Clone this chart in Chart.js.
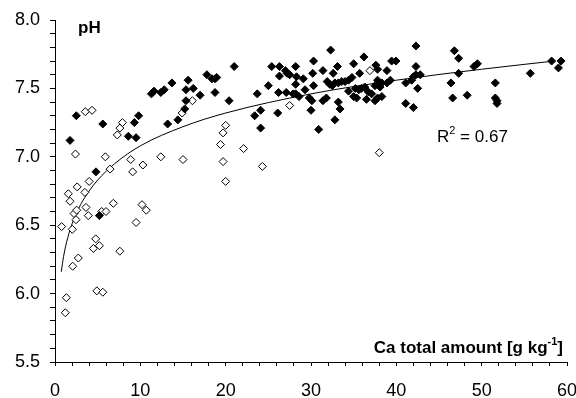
<!DOCTYPE html>
<html>
<head>
<meta charset="utf-8">
<script src="https://cdn.jsdelivr.net/npm/chart.js@4"></script>
<style>
  html, body { margin: 0; padding: 0; background: #fff; }
  #wrap { width: 576px; height: 398px; }
</style>
</head>
<body>
<div id="wrap"><canvas id="myChart" width="576" height="398"></canvas></div>
<script>
// filled diamonds (Ca total [g/kg], pH)
const filledCa = [1.76, 2.5, 4.8, 5.2, 5.6, 8.6, 9.5, 9.3, 9.8,
  11.3, 11.6, 12.4, 12.8, 13.7, 13.2, 14.4,
  15.2, 15.35, 15.35, 15.6, 16.2, 17.0,
  17.8, 18.4, 18.75, 18.95, 18.75, 21.0, 20.4,
  23.7, 23.4, 24.1, 24.1, 25.0, 25.4, 26.3, 26.3, 26.2, 27.1, 26.1, 27.0, 27.2, 27.5, 27.9,
  28.2, 28.3, 29.1, 28.2, 29.3, 28.2, 28.6, 30.3, 30.2, 30.3, 29.8, 30.1, 30.0, 30.9, 31.4, 31.4, 31.8, 32.3, 32.6, 33.1,
  31.9, 32.2, 32.5, 32.8, 33.2, 33.6, 34.0, 34.4, 34.8,
  33.2, 33.4, 32.8, 34.4, 35.0, 35.7, 36.2,
  35.2, 35.6, 35.9, 36.3, 35.0, 35.35, 36.7, 37.1, 36.5, 37.5, 37.8, 37.5, 37.8, 38.1, 37.6, 37.8, 38.9, 38.3, 39.45, 39.96, 39.3,
  38.3, 38.9, 41.1, 41.1, 42.0, 41.8, 42.0, 42.3, 42.8, 42.3, 42.3, 42.5, 46.8, 47.3, 47.3, 46.4, 46.6, 48.3, 49.1, 49.5,
  51.6, 51.6, 51.8, 51.8, 55.7, 58.2, 59.3, 59.0];
const filledPH = [7.12, 7.30, 6.89, 6.57, 7.24, 7.15, 7.14, 7.25, 7.30,
  7.46, 7.48, 7.47, 7.49, 7.54, 7.24, 7.27,
  7.35, 7.41, 7.49, 7.56, 7.50, 7.45,
  7.60, 7.57, 7.57, 7.58, 7.47, 7.66, 7.41,
  7.46, 7.30, 7.34, 7.21, 7.52, 7.66, 7.66, 7.59, 7.47, 7.47, 7.32, 7.63, 7.61, 7.60, 7.46,
  7.66, 7.585, 7.57, 7.53, 7.49, 7.46, 7.44, 7.70, 7.61, 7.52, 7.43, 7.41, 7.34, 7.20, 7.63, 7.41, 7.43, 7.78, 7.61, 7.66,
  7.55, 7.53, 7.52, 7.54, 7.54, 7.55, 7.55, 7.56, 7.58,
  7.40, 7.35, 7.27, 7.48, 7.68, 7.61, 7.73,
  7.50, 7.49, 7.50, 7.51, 7.44, 7.43, 7.475, 7.46, 7.42, 7.41, 7.43, 7.52, 7.56, 7.51, 7.67, 7.64, 7.63, 7.54, 7.70, 7.70, 7.56,
  7.44, 7.54, 7.54, 7.39, 7.36, 7.56, 7.585, 7.60, 7.60, 7.81, 7.66, 7.50, 7.775, 7.72, 7.61, 7.54, 7.43, 7.45, 7.66, 7.68,
  7.54, 7.43, 7.41, 7.39, 7.61, 7.70, 7.70, 7.65];

// open diamonds
const openCa = [0.78, 1.21, 1.33, 1.56, 1.76, 2.03, 2.07, 2.23, 2.4, 2.46, 2.54, 2.6, 2.73, 3.5, 3.55, 3.63, 3.9, 4.0, 4.34,
  4.5, 4.77, 4.9, 5.2, 5.47, 5.6, 5.9, 5.98, 6.45, 6.83, 7.3, 7.6, 7.6, 7.9, 8.87, 9.1, 9.5, 10.2, 10.3, 10.7,
  12.4, 14.9, 15.0, 16.1, 19.4, 19.7, 19.7, 20.0, 20.0, 22.1, 24.3, 27.5, 36.9, 38.0];
const openPH = [6.49, 5.86, 5.97, 6.73, 6.675, 6.47, 6.20, 6.585, 7.02, 6.54, 6.61, 6.78, 6.26, 6.74, 7.33, 6.63, 6.57, 6.82, 7.34,
  6.33, 6.40, 6.02, 6.35, 6.60, 6.01, 7.00, 6.60, 6.91, 6.66, 7.16, 7.21, 6.31, 7.25, 6.98, 6.89, 6.52, 6.65, 6.94, 6.61,
  7.00, 7.32, 6.98, 7.41, 7.09, 7.175, 6.965, 7.23, 6.82, 7.06, 6.93, 7.375, 7.63, 7.03];

// log trend line
const trendCa = [0.74, 1, 1.5, 2, 3, 4, 5, 7, 10, 15, 20, 30, 40, 50, 58.5];
const trendPH = [6.16, 6.27, 6.41, 6.51, 6.65, 6.75, 6.83, 6.95, 7.08, 7.22, 7.32, 7.46, 7.56, 7.64, 7.70];

// tick positions: labelled majors, unlabelled minors
const xTicks = [0, 10, 20, 30, 40, 50, 60];
const xMinorStep = 2;
const yTicks = [5.5, 6.0, 6.5, 7.0, 7.5, 8.0];
const yMinorStep = 0.1;

const FONT = '"Liberation Sans", Arial, sans-serif';
const pts = (xs, ys) => xs.map((x, i) => ({ x: x, y: ys[i] }));

function allTicks(major, step) {
  const out = [];
  const lo = major[0], hi = major[major.length - 1];
  const n = Math.round((hi - lo) / step);
  for (let i = 0; i <= n; i++) out.push({ value: Math.round((lo + i * step) * 1000) / 1000 });
  return out;
}
const isMajor = (major, v) => major.some(m => Math.abs(m - v) < 1e-6);

// axis name, pH label and R2 text
const extras = {
  id: 'extras',
  afterDraw(chart) {
    const ctx = chart.ctx;
    ctx.save();
    ctx.fillStyle = '#000';
    ctx.textBaseline = 'alphabetic';
    ctx.textAlign = 'left';
    // pH
    ctx.font = 'bold 17px ' + FONT;
    ctx.fillText('pH', 78, 33);

    // axis title with superscript
    const main = 'Ca total amount [g kg';
    const sup = '-1';
    const end = ']';
    ctx.font = 'bold 17px ' + FONT;
    const wMain = ctx.measureText(main).width;
    const wEnd = ctx.measureText(end).width;
    ctx.font = 'bold 11px ' + FONT;
    const wSup = ctx.measureText(sup).width;
    let x0 = 563 - (wMain + wSup + wEnd);
    ctx.font = 'bold 17px ' + FONT;
    ctx.fillText(main, x0, 353);
    ctx.font = 'bold 11px ' + FONT;
    ctx.fillText(sup, x0 + wMain, 345);
    ctx.font = 'bold 17px ' + FONT;
    ctx.fillText(end, x0 + wMain + wSup, 353);

    // R2
    ctx.font = '17px ' + FONT;
    ctx.fillText('R', 437, 142);
    const wR = ctx.measureText('R').width;
    ctx.font = '11px ' + FONT;
    ctx.fillText('2', 437 + wR, 134);
    const w2 = ctx.measureText('2').width;
    ctx.font = '17px ' + FONT;
    ctx.fillText(' = 0.67', 437 + wR + w2, 142);
    ctx.restore();
  }
};

function noPad(s) {
  s.paddingLeft = 0; s.paddingRight = 0; s.paddingTop = 0; s.paddingBottom = 0;
}

new Chart(document.getElementById('myChart'), {
  type: 'scatter',
  data: {
    datasets: [
      {
        label: 'filled',
        data: pts(filledCa, filledPH),
        pointStyle: 'rectRot',
        pointRadius: 4,
        backgroundColor: '#000',
        borderColor: '#000',
        borderWidth: 1
      },
      {
        label: 'open',
        data: pts(openCa, openPH),
        pointStyle: 'rectRot',
        pointRadius: 4,
        backgroundColor: '#fff',
        borderColor: '#000',
        borderWidth: 1
      },
      {
        label: 'trend',
        type: 'line',
        data: pts(trendCa, trendPH),
        showLine: true,
        pointRadius: 0,
        borderColor: '#000',
        borderWidth: 1,
        cubicInterpolationMode: 'monotone',
        fill: false
      }
    ]
  },
  options: {
    responsive: false,
    animation: false,
    layout: { padding: { top: 20, right: 9, left: 0, bottom: 0 } },
    plugins: { legend: { display: false }, tooltip: { enabled: false } },
    scales: {
      x: {
        type: 'linear',
        min: 0, max: 60,
        afterFit: s => { s.height = 36; noPad(s); },
        afterBuildTicks: s => { s.ticks = allTicks(xTicks, xMinorStep); },
        grid: { display: true, drawOnChartArea: false, drawTicks: true, tickLength: 4, color: '#000', lineWidth: 1 },
        border: { display: true, color: '#000', width: 1 },
        ticks: {
          color: '#000', font: { family: FONT, size: 18 }, padding: 14, maxRotation: 0, autoSkip: false,
          callback: v => isMajor(xTicks, v) ? String(v) : ''
        }
      },
      y: {
        type: 'linear',
        min: 5.5, max: 8.0,
        afterFit: s => { s.width = 55; noPad(s); },
        afterBuildTicks: s => { s.ticks = allTicks(yTicks, yMinorStep); },
        grid: { display: true, drawOnChartArea: false, drawTicks: true, tickLength: 5, color: '#000', lineWidth: 1 },
        border: { display: true, color: '#000', width: 1 },
        ticks: {
          color: '#000', font: { family: FONT, size: 18 }, padding: 10, autoSkip: false,
          callback: v => isMajor(yTicks, v) ? v.toFixed(1) : ''
        }
      }
    }
  },
  plugins: [extras]
});
</script>
</body>
</html>
